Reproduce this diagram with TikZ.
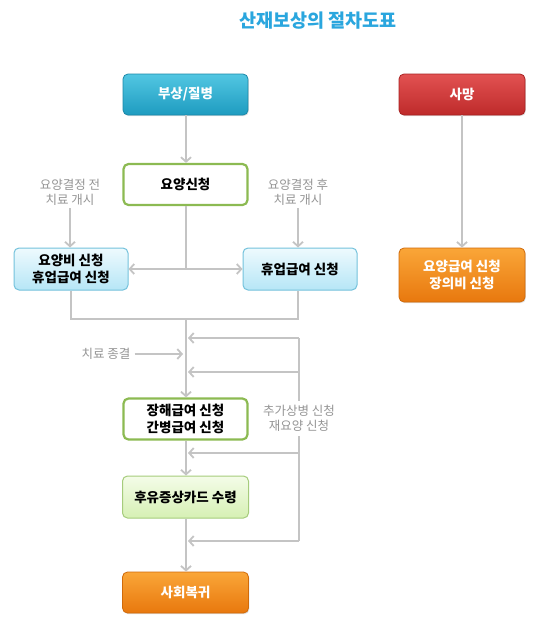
\documentclass[tikz,border=0pt]{standalone}
\usepackage{fontspec}
\setmainfont{Noto Sans CJK KR}
\usetikzlibrary{arrows.meta,shadows}
\definecolor{linegray}{HTML}{C4C4C4}
\definecolor{labgray}{HTML}{959595}
\definecolor{titleblue}{HTML}{2AA6DE}
\definecolor{cyanT}{HTML}{52C6E2}
\definecolor{cyanB}{HTML}{1E9CC0}
\definecolor{cyanD}{HTML}{1A88A8}
\definecolor{redT}{HTML}{E25252}
\definecolor{redB}{HTML}{BE2A2A}
\definecolor{redD}{HTML}{A82222}
\definecolor{orT}{HTML}{FAA638}
\definecolor{orB}{HTML}{E8780E}
\definecolor{orD}{HTML}{D06A0A}
\definecolor{ltcT}{HTML}{EEFAFE}
\definecolor{ltcB}{HTML}{B6E6F6}
\definecolor{ltcD}{HTML}{74C2DC}
\definecolor{ltgT}{HTML}{F4FCE8}
\definecolor{ltgB}{HTML}{D6F0B4}
\definecolor{ltgD}{HTML}{A6CC7C}
\definecolor{grnD}{HTML}{8CBA52}
\tikzset{
  box/.style={rounded corners=5pt, align=center, font=\fontsize{13.5}{17.5}\selectfont\bfseries, inner sep=0pt},
  darkbox/.style={box, text=white, line width=0.8pt, drop shadow={opacity=0.25, shadow xshift=0.8pt, shadow yshift=-1.2pt}},
  cyanbox/.style={darkbox, draw=cyanD, top color=cyanT, bottom color=cyanB},
  redbox/.style={darkbox, draw=redD, top color=redT, bottom color=redB},
  orbox/.style={darkbox, draw=orD, top color=orT, bottom color=orB},
  ltcbox/.style={box, draw=ltcD, line width=1pt, top color=ltcT, bottom color=ltcB},
  ltgbox/.style={box, draw=ltgD, line width=1pt, top color=ltgT, bottom color=ltgB},
  whbox/.style={box, draw=grnD, line width=2.2pt, fill=white},
  lab/.style={text=labgray, align=center, font=\fontsize{12.5}{15.5}\selectfont, inner sep=2pt},
  conn/.style={draw=linegray, line width=1.8pt},
  arr/.style={conn, -{Straight Barb[length=4.5pt,width=10pt]}},
}
\begin{document}
\begin{tikzpicture}[x=1pt,y=-1pt]
\useasboundingbox (0,0) rectangle (540,629);
\fill[white] (0,0) rectangle (540,629);

\node[text=titleblue, font=\fontsize{18.5}{22}\selectfont\bfseries] (title) at (318,21) {산재보상의 절차도표};

\node[cyanbox, minimum width=125pt, minimum height=41pt] (bu) at (185.5,94.5) {부상/질병};
\node[redbox, minimum width=126pt, minimum height=41pt] (death) at (462,94.5) {사망};
\node[whbox, minimum width=124pt, minimum height=41pt] (yoyang) at (185.5,184.5) {요양신청};
\node[lab] (lb1) at (70,192.5) {요양결정 전\\치료 개시};
\node[lab] (lb2) at (298,192.5) {요양결정 후\\치료 개시};
\node[ltcbox, minimum width=114pt, minimum height=42pt] (left) at (71,269) {요양비 신청\\휴업급여 신청};
\node[ltcbox, minimum width=114pt, minimum height=42pt] (right) at (300,269) {휴업급여 신청};
\node[orbox, minimum width=126pt, minimum height=54pt] (orange) at (462,275) {요양급여 신청\\장의비 신청};
\node[lab] (chiryo) at (106,354) {치료 종결};
\node[whbox, minimum width=124pt, minimum height=41pt] (jang) at (185.5,419) {장해급여 신청\\간병급여 신청};
\node[lab, inner sep=4pt] (addl) at (299,418.5) {추가상병 신청\\재요양 신청};
\node[ltgbox, minimum width=126pt, minimum height=42pt] (hu) at (185.5,497) {후유증상카드 수령};
\node[orbox, minimum width=126pt, minimum height=41pt] (social) at (185.5,592.5) {사회복귀};

% junctions
\coordinate (j1) at (186,269);
\coordinate (j2) at (186,319);
\coordinate (c1) at (183,354);
\coordinate (r1) at (299,338);
\coordinate (r2) at (299,372);
\coordinate (r3) at (299,453);
\coordinate (r4) at (299,541);
\coordinate (m1) at (188,338);
\coordinate (m2) at (188,372);
\coordinate (m3) at (188,453);
\coordinate (m4) at (188,541);

\draw[arr] (bu.south -| j1) -- (yoyang.north -| j1);
\draw[conn] (yoyang.south -| j1) -- (j1);
\draw[arr] (j1) -- (left.east);
\draw[arr] (j1) -- (right.west);
\draw[arr] (lb1.south) -- (left.north -| lb1.south);
\draw[arr] (lb2.south) -- (right.north -| lb2.south);
\draw[arr] (death) -- (orange);
\draw[conn] (left.south) |- (j2) -| (right.south -| lb2.south);
\draw[arr] (j2) -- (jang.north -| j2);
\draw[arr] ([xshift=2pt]chiryo.east) -- (c1);
\draw[conn] (r1) -- (addl.north);
\draw[conn] (addl.south) -- (r4);
\draw[arr] (r1) -- (m1);
\draw[arr] (r2) -- (m2);
\draw[arr] (jang.south -| j2) -- (hu.north -| j2);
\draw[arr] (r3) -- (m3);
\draw[arr] (hu.south -| j2) -- (social.north -| j2);
\draw[arr] (r4) -- (m4);
\end{tikzpicture}
\end{document}
